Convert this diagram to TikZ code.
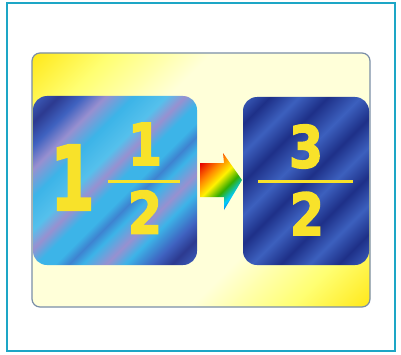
\documentclass[tikz,border=0pt]{standalone}
\usepackage{fontspec}
\newfontfamily\digfont{DejaVu Sans Bold}[FakeBold=2.5]
\definecolor{frameteal}{HTML}{1DA6C6}
\definecolor{panelborder}{HTML}{7A8EA8}
\definecolor{digyellow}{HTML}{F8E22A}
\pgfdeclarehorizontalshading{panelshade}{100bp}{
 color(0bp)=(yellow!80!orange!90!white);
 color(14.6bp)=(yellow!80!orange!90!white);
 color(24bp)=(yellow!55!white);
 color(36bp)=(yellow!15!white);
 color(64bp)=(yellow!15!white);
 color(76bp)=(yellow!55!white);
 color(85.4bp)=(yellow!80!orange!90!white);
 color(100bp)=(yellow!80!orange!90!white)}
\definecolor{ln}{HTML}{2C3A90}
\definecolor{lb}{HTML}{3F62C0}
\definecolor{lv}{HTML}{9890D0}
\definecolor{lc}{HTML}{3CB4E8}
\definecolor{lcc}{HTML}{55C0EC}
\pgfdeclarehorizontalshading{leftshade}{100bp}{
 color(0bp)=(lb);
 color(14.6bp)=(lb);
 color(20bp)=(ln);
 color(25bp)=(lb);
 color(30bp)=(lv);
 color(36bp)=(lc);
 color(43bp)=(lcc);
 color(47bp)=(lv);
 color(51bp)=(lc);
 color(55bp)=(lc);
 color(58bp)=(lb!60!lc);
 color(61bp)=(lc);
 color(66bp)=(lv);
 color(70bp)=(lc);
 color(76bp)=(lb);
 color(80bp)=(ln);
 color(85.4bp)=(lb);
 color(100bp)=(lb)}
\definecolor{rn}{HTML}{1E3088}
\definecolor{rl}{HTML}{3C60BE}
\pgfdeclarehorizontalshading{rightshade}{100bp}{
 color(0bp)=(rl);
 color(14.6bp)=(rl);
 color(21bp)=(rn);
 color(28bp)=(rl);
 color(35bp)=(rn);
 color(43bp)=(rl);
 color(50bp)=(rn);
 color(57bp)=(rl);
 color(64bp)=(rn);
 color(71bp)=(rl);
 color(78bp)=(rn);
 color(85.4bp)=(rl);
 color(100bp)=(rl)}
\pgfdeclarehorizontalshading{rainbow}{100bp}{
 color(0bp)=(red!90!black);
 color(22bp)=(red!90!black);
 color(35bp)=(orange);
 color(47bp)=(yellow!90!orange);
 color(58bp)=(green!60!black!80!yellow);
 color(68bp)=(cyan!80!blue);
 color(80bp)=(blue!70!black);
 color(100bp)=(blue!70!black)}
\tikzset{
  bignum/.style={inner sep=0pt, text=digyellow, font=\digfont\fontsize{89}{89}\selectfont},
  smallnum/.style={inner sep=0pt, text=digyellow, font=\digfont\fontsize{58}{58}\selectfont},
  fracline/.style={draw=digyellow, line width=3pt},
}
\begin{document}
\begin{tikzpicture}[x=1pt,y=1pt]
\useasboundingbox (0,0) rectangle (401,354);
\fill[white] (0,0) rectangle (401,354);
% outer frame
\draw[frameteal, line width=2.5pt] (7,3) rectangle (395,351);
% yellow panel
\path[shading=panelshade, shading angle=-45, rounded corners=8pt] (32,47) rectangle (370,301);
\draw[panelborder, line width=1.2pt, rounded corners=8pt] (32,47) rectangle (370,301);
% left box
\path[shading=leftshade, shading angle=-45, rounded corners=14pt] (33,89) rectangle (197,258);
% right box
\path[shading=rightshade, shading angle=-45, rounded corners=14pt] (243,89) rectangle (369,257);
% arrow
\path[shading=rainbow, shading angle=-45] (200,157) -- (200,191) -- (224,191) -- (223,201) -- (242,174) -- (224,144) -- (224,157) -- cycle;
% left digits
\node[bignum, xscale=0.72] (one) at (72.5,176.5) {1};
\node[smallnum, xscale=0.85] (num) at (145,210) {1};
\node[smallnum, xscale=0.85] (den) at (145,142) {2};
\coordinate (la) at (108,173);
\coordinate (lb) at (180,173);
\draw[fracline] (la) -- (lb);
% right digits
\node[smallnum, xscale=0.85] (three) at (306,207.5) {3};
\node[smallnum, xscale=0.85] (den2) at (307,140.5) {2};
\coordinate (ra) at (258,173);
\coordinate (rb) at (353,173);
\draw[fracline] (ra) -- (rb);
\end{tikzpicture}
\end{document}
